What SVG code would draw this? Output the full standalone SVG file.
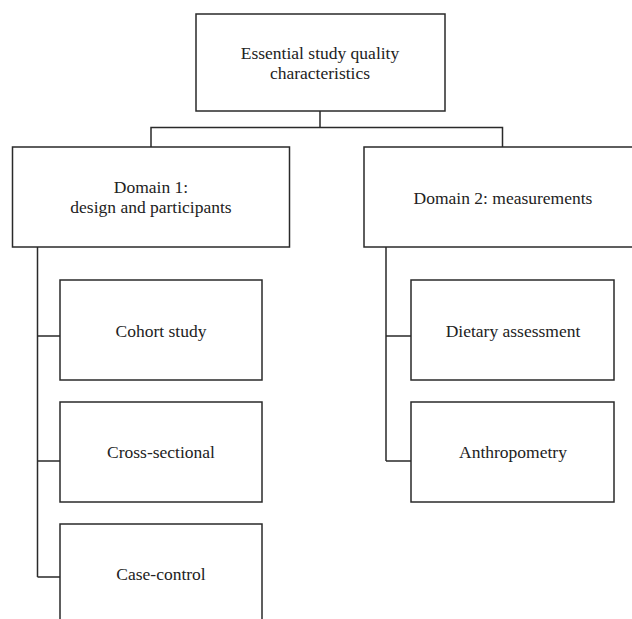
<svg xmlns="http://www.w3.org/2000/svg" width="632" height="619" viewBox="0 0 632 619">
<style>
.box{fill:#fff;stroke:#2a2a2a;stroke-width:1.5}
.ln{fill:none;stroke:#2a2a2a;stroke-width:1.5}
text{font-family:"Liberation Serif","Times New Roman",serif;font-size:17.5px;fill:#222;text-anchor:middle}
</style>
<rect width="632" height="619" fill="#fff"/>
<g id="connectors">
<path class="ln" d="M320 111V127.5M151 147V127.5H502.5V147"/>
<path class="ln" d="M37.5 247V577M37.5 336H60M37.5 461H60M37.5 577H60"/>
<path class="ln" d="M386 247V461M386 336H411M386 461H411"/>
</g>
<g id="root"><rect class="box" x="196" y="14" width="249" height="97"/><text x="320" y="59">Essential study quality</text><text x="320" y="79">characteristics</text></g>
<g id="domain1"><rect class="box" x="12.5" y="147" width="277" height="100"/><text x="151" y="193">Domain 1:</text><text x="151" y="213">design and participants</text></g>
<g id="domain2"><rect class="box" x="364" y="147" width="272" height="100"/><text x="503" y="204">Domain 2: measurements</text></g>
<g id="cohort"><rect class="box" x="60" y="280" width="202" height="100"/><text x="161" y="337">Cohort study</text></g>
<g id="cross"><rect class="box" x="60" y="402" width="202" height="100"/><text x="161" y="458">Cross-sectional</text></g>
<g id="casecontrol"><rect class="box" x="60" y="524" width="202" height="100"/><text x="161" y="580">Case-control</text></g>
<g id="dietary"><rect class="box" x="411" y="280" width="203" height="100"/><text x="513" y="337">Dietary assessment</text></g>
<g id="anthro"><rect class="box" x="411" y="402" width="203" height="100"/><text x="513" y="458">Anthropometry</text></g>
</svg>
